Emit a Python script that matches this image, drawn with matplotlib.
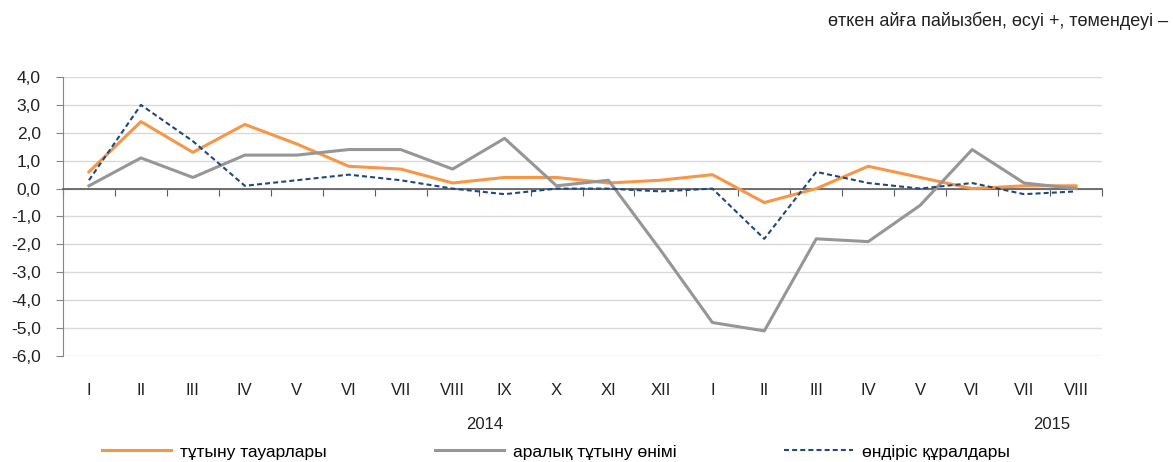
import numpy as np
import matplotlib.pyplot as plt

months = ['I', 'II', 'III', 'IV', 'V', 'VI', 'VII', 'VIII', 'IX', 'X', 'XI', 'XII',
          'I', 'II', 'III', 'IV', 'V', 'VI', 'VII', 'VIII']
consumer = [0.6, 2.4, 1.3, 2.3, 1.6, 0.8, 0.7, 0.2, 0.4, 0.4, 0.2, 0.3,
            0.5, -0.5, 0.0, 0.8, 0.4, 0.0, 0.1, 0.1]
intermediate = [0.1, 1.1, 0.4, 1.2, 1.2, 1.4, 1.4, 0.7, 1.8, 0.1, 0.3, -2.2,
                -4.8, -5.1, -1.8, -1.9, -0.6, 1.4, 0.2, 0.0]
production = [0.3, 3.0, 1.7, 0.1, 0.3, 0.5, 0.3, 0.0, -0.2, 0.0, 0.0, -0.1,
              0.0, -1.8, 0.6, 0.2, 0.0, 0.2, -0.2, -0.1]
yticks = [4, 3, 2, 1, 0, -1, -2, -3, -4, -5, -6]
series_names = ['тұтыну тауарлары', 'аралық тұтыну өнімі', 'өндіріс құралдары']

plt.rcParams['font.family'] = ['Liberation Sans', 'DejaVu Sans']

W, H = 1173, 462
fig = plt.figure(figsize=(W / 100, H / 100), dpi=100)
ax = fig.add_axes([63 / W, 1 - 356 / H, (1102 - 63) / W, (356 - 77) / H])

x = np.arange(len(months))
ax.plot(x, consumer, color='#F79646', lw=2.2, label=series_names[0], zorder=3)
ax.plot(x, intermediate, color='#969696', lw=2.2, label=series_names[1], zorder=3)
ax.plot(x, production, color='#1F497D', lw=1.5, ls=(0, (2.4, 1.5)),
        label=series_names[2], zorder=4)

ax.set_xlim(-0.5, len(months) - 0.5)
ax.set_ylim(-6, 4)
ax.set_yticks(yticks)
ax.set_yticklabels([f'{v:.1f}'.replace('.', ',') for v in yticks])
ax.yaxis.grid(True, color='#D9D9D9', lw=1)
ax.set_axisbelow(True)

for s in ['top', 'right']:
    ax.spines[s].set_visible(False)
ax.spines['left'].set_color('#868686')
ax.tick_params(axis='y', direction='out', length=5, color='#868686',
               labelsize=12.5, labelcolor='#222222', pad=11)

# category axis drawn at zero, ticks between months
ax.spines['bottom'].set_position(('data', 0))
ax.spines['bottom'].set_color('#595959')
ax.spines['bottom'].set_linewidth(1.2)
ax.set_xticks(np.arange(-0.5, len(months), 1.0))
ax.tick_params(axis='x', direction='out', length=5, color='#595959',
               labelbottom=False)

# month labels under the plot
month_ax = ax.secondary_xaxis('bottom')
month_ax.set_xticks(x)
month_ax.set_xticklabels(months)
month_ax.spines['bottom'].set_visible(False)
month_ax.tick_params(length=0, pad=19.5, labelsize=12, labelcolor='#222222')

ax.text(7.62, -0.245, '2014', transform=ax.get_xaxis_transform(),
        ha='center', va='center', fontsize=12, color='#222222')
ax.text(18.54, -0.245, '2015', transform=ax.get_xaxis_transform(),
        ha='center', va='center', fontsize=12, color='#222222')

fig.text(1168 / W, 1 - 21 / H, 'өткен айға пайызбен, өсуі +, төмендеуі –',
         ha='right', va='center', fontsize=13, color='#222222')

fig.legend(loc='center', bbox_to_anchor=(556 / W, 1 - 452 / H), ncol=3,
           frameon=False, fontsize=12.5, handlelength=4.0, columnspacing=6.2,
           handletextpad=0.5, borderpad=0)

fig.savefig('out.png', dpi=100)
